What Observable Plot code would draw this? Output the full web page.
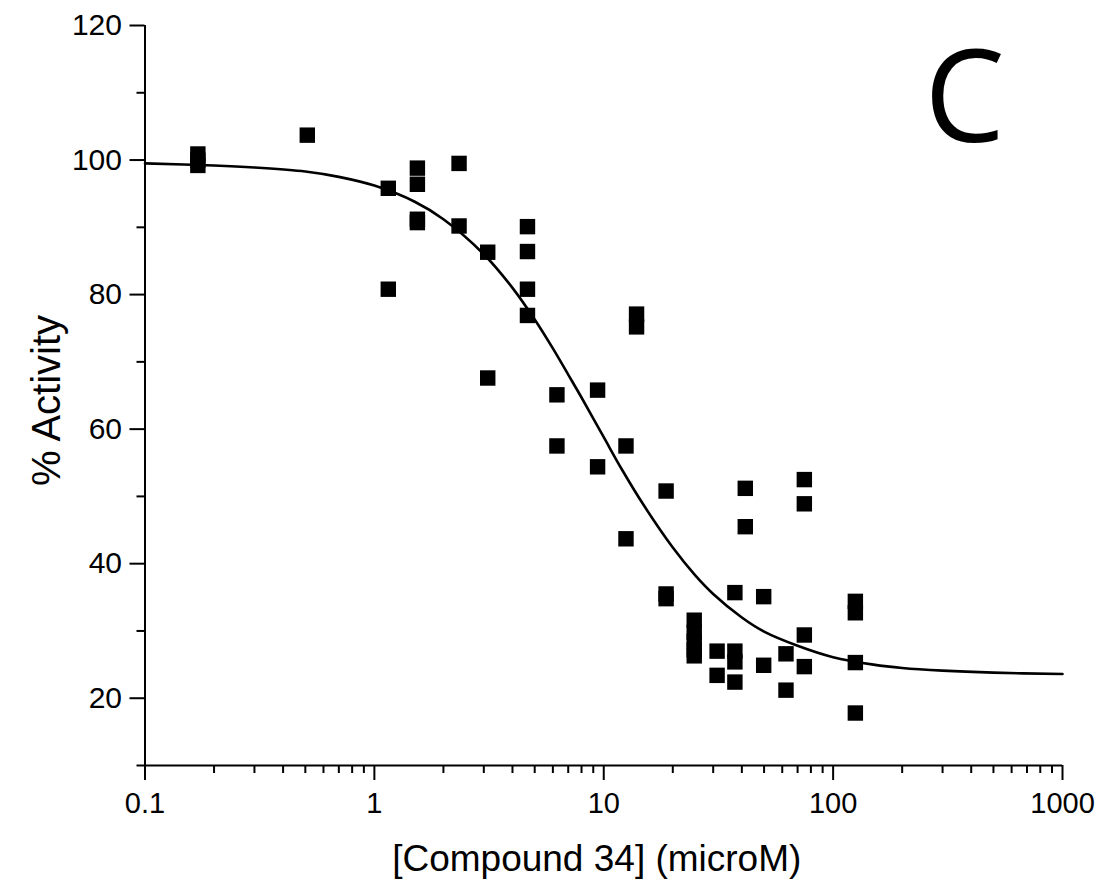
<!DOCTYPE html>
<html>
<head>
<meta charset="utf-8">
<script src="https://cdn.jsdelivr.net/npm/d3@7"></script>
<script src="https://cdn.jsdelivr.net/npm/@observablehq/plot@0.6"></script>
<style>
  html, body { margin: 0; padding: 0; background: #fff; }
  #chart svg { display: block; }
  #chart [aria-label$="axis tick"], #chart [aria-label$="axis tick"] path { stroke-width: 2px; }
</style>
</head>
<body>
<div id="chart"></div>
<script>
// Measured points: concentration (microM) and % activity
const conc = [
  0.17, 0.17, 0.17,
  0.51,
  1.15, 1.15,
  1.54, 1.54, 1.54, 1.54,
  2.34, 2.34,
  3.12, 3.12,
  4.65, 4.65, 4.65, 4.65,
  6.25, 6.25,
  9.4, 9.4,
  12.5, 12.5,
  13.9, 13.9,
  18.7, 18.7, 18.7,
  24.8, 24.8, 24.8, 24.8, 24.8,
  31.2, 31.2,
  37.3, 37.3, 37.3, 37.3,
  41.4, 41.4,
  49.8, 49.8,
  62.3, 62.3,
  74.9, 74.9, 74.9, 74.9,
  125, 125, 125, 125
];
const activity = [
  100.9, 100.0, 99.2,
  103.7,
  95.8, 80.8,
  98.8, 96.4, 91.2, 90.7,
  99.5, 90.2,
  86.3, 67.6,
  90.1, 86.4, 80.8, 76.9,
  65.1, 57.5,
  65.8, 54.4,
  57.5, 43.7,
  77.1, 75.2,
  50.8, 35.5, 34.8,
  31.6, 29.8, 28.5, 27.2, 26.3,
  27.0, 23.4,
  35.7, 27.0, 25.4, 22.4,
  51.2, 45.5,
  35.1, 24.9,
  26.6, 21.2,
  52.5, 48.9, 29.4, 24.7,
  34.4, 32.7, 25.3, 17.8
];

// Fitted dose-response curve
const fitConc = [0.1, 0.2, 0.3, 0.5, 0.7, 1, 1.5, 2, 3, 4, 5, 6, 7, 8, 10, 12, 15, 20, 25, 30, 40, 50, 70, 100, 150, 200, 300, 500, 1000];
const fitActivity = [99.5, 99.2, 98.9, 98.3, 97.5, 96.2, 93.8, 91.2, 86.0, 81.0, 76.3, 72.0, 68.1, 64.7, 58.8, 54.0, 48.6, 42.4, 38.3, 35.5, 32.0, 29.9, 27.8, 26.1, 25.0, 24.5, 24.1, 23.8, 23.6];

// Axis ticks
const xMajorTicks = [0.1, 1, 10, 100, 1000];
const xMinorTicks = [0.2, 0.3, 0.4, 0.5, 0.6, 0.7, 0.8, 0.9,
                     2, 3, 4, 5, 6, 7, 8, 9,
                     20, 30, 40, 50, 60, 70, 80, 90,
                     200, 300, 400, 500, 600, 700, 800, 900];
const yMajorTicks = [20, 40, 60, 80, 100, 120];
const yMinorTicks = [10, 30, 50, 70, 90, 110];

const xLabel = "[Compound 34] (microM)";
const yLabel = "% Activity";
const panelLetter = "C";

const points = conc.map((c, i) => ({conc: c, activity: activity[i]}));
const fit = fitConc.map((c, i) => ({conc: c, activity: fitActivity[i]}));

const chart = Plot.plot({
  width: 1102,
  height: 895,
  marginLeft: 144.5,
  marginRight: 40,
  marginTop: 25,
  marginBottom: 130,
  style: {fontFamily: "'Liberation Sans', Arial, sans-serif", background: "#fff", color: "#000"},
  x: {type: "log", domain: [0.1, 1000]},
  y: {domain: [10, 120]},
  marks: [
    Plot.ruleX([0.1], {y1: 10, y2: 120, stroke: "#000", strokeWidth: 2}),
    Plot.ruleY([10], {x1: 0.1, x2: 1000, stroke: "#000", strokeWidth: 2}),
    Plot.axisY({ticks: yMajorTicks, tickSize: 15, tickPadding: 8, fontSize: 30, strokeWidth: 2, label: null, tickFormat: d => String(d)}),
    Plot.axisY({ticks: yMinorTicks, tickSize: 8, text: null, strokeWidth: 2, label: null}),
    Plot.axisX({ticks: xMajorTicks, tickSize: 15, tickPadding: 12, fontSize: 29, strokeWidth: 2, label: null, tickFormat: d => String(d)}),
    Plot.axisX({ticks: xMinorTicks, tickSize: 8, text: null, strokeWidth: 2, label: null}),
    Plot.line(fit, {x: "conc", y: "activity", curve: "catmull-rom", stroke: "#000", strokeWidth: 2.6}),
    Plot.dot(points, {x: "conc", y: "activity", symbol: "square", r: 8.7, fill: "#000", stroke: null}),
    Plot.text([xLabel], {frameAnchor: "bottom", dx: -7, dy: 105, lineAnchor: "bottom", textAnchor: "middle", fontSize: 37, fill: "#000"}),
    Plot.text([yLabel], {frameAnchor: "left", dx: -85, dy: 5, rotate: -90, lineAnchor: "bottom", textAnchor: "middle", fontSize: 40, fill: "#000"}),
    Plot.text([panelLetter], {frameAnchor: "top-right", dx: -98, dy: 116, lineAnchor: "bottom", textAnchor: "middle", fontSize: 128, fontFamily: "'Open Sans', sans-serif", fill: "#000"})
  ]
});
document.getElementById("chart").appendChild(chart);
</script>
</body>
</html>
